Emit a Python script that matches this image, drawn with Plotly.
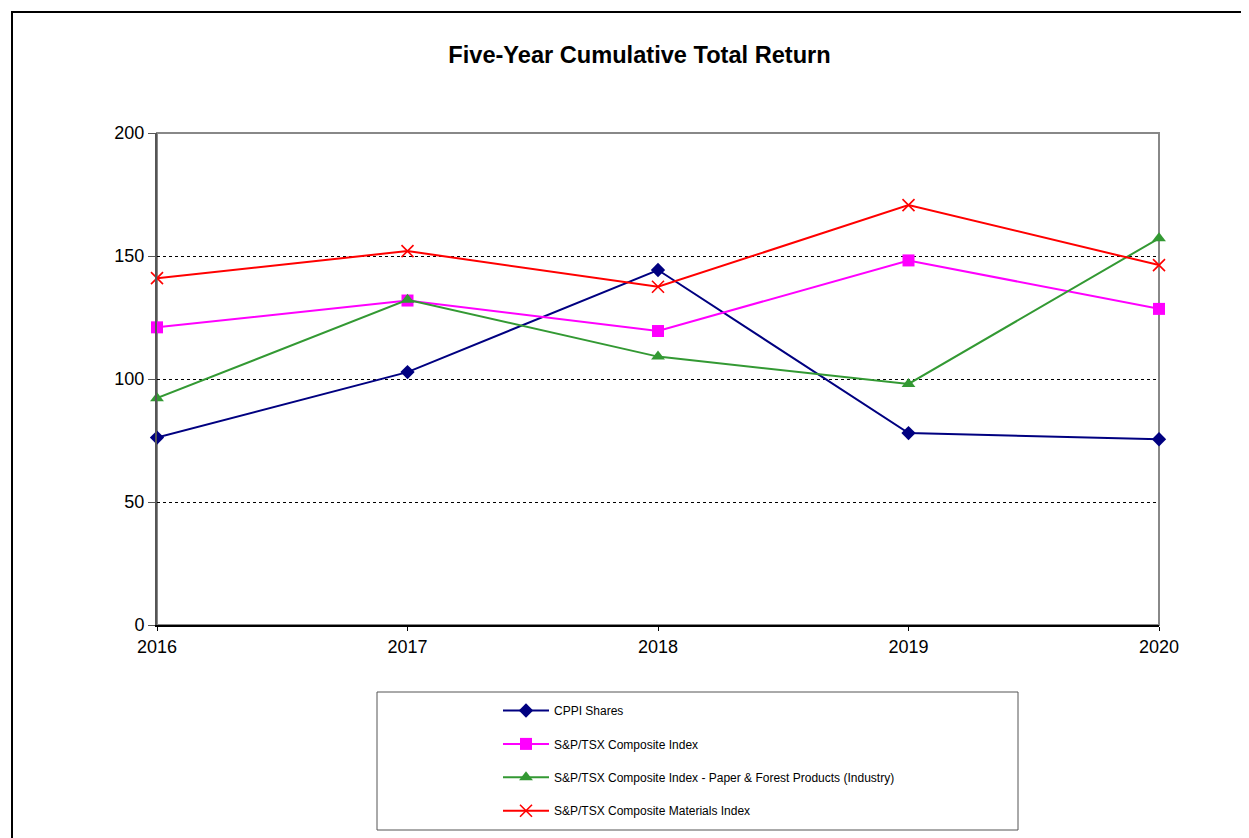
import plotly.graph_objects as go

years = [2016, 2017, 2018, 2019, 2020]
cppi = [76.2, 102.8, 144.3, 78.0, 75.5]
sptsx = [121.0, 131.9, 119.5, 148.2, 128.5]
paper_forest = [92.2, 132.2, 109.1, 98.0, 157.2]
materials = [141.0, 152.0, 137.5, 170.7, 146.3]

series = [
    ("CPPI Shares", cppi, "#000080", "diamond", 11),
    ("S&P/TSX Composite Index", sptsx, "#FF00FF", "square", 12),
    ("S&P/TSX Composite Index - Paper & Forest Products (Industry)", paper_forest, "#339933", "triangle-up", 12),
    ("S&P/TSX Composite Materials Index", materials, "#FF0000", "x-thin", 12),
]

OFF = 8  # page body margin
W, H = 1249 - OFF, 838 - OFF
# plot area in screen pixels
L, R, T, B = 157, 1159, 133, 625

def px(x):
    return (x - L) / (R - L)

def py(y):
    return (B - y) / (B - T)

def cx(x):
    return (x - OFF) / W

def cy(y):
    return 1 - (y - OFF) / H

fig = go.Figure()
for i, (name, vals, col, sym, sz) in enumerate(series):
    marker = dict(symbol=sym, size=sz, color=col)
    if sym == "x-thin":
        marker["line"] = dict(color=col, width=1.6)
    fig.add_trace(go.Scatter(
        x=years, y=vals, name=name, mode="lines+markers",
        line=dict(color=col, width=2), marker=marker,
        cliponaxis=False, legendgroup=f"g{i}",
    ))

shapes = [
    dict(type="rect", xref="paper", yref="paper", x0=0, x1=1, y0=0, y1=1,
         line=dict(color="#888888", width=2), layer="below"),
    dict(type="path", xref="paper", yref="paper",
         path=f"M {px(12)} {py(850)} L {px(12)} {py(12)} L {px(1260)} {py(12)}",
         line=dict(color="black", width=2)),
    dict(type="rect", xref="paper", yref="paper",
         x0=px(377), x1=px(1018), y0=py(830), y1=py(692),
         line=dict(color="#555555", width=1)),
]

fig.update_layout(
    width=W, height=H,
    margin=dict(l=L - OFF, r=W - (R - OFF), t=T - OFF, b=H - (B - OFF), pad=0,
                autoexpand=False),
    paper_bgcolor="white", plot_bgcolor="white",
    font=dict(family="Liberation Sans, Arial, sans-serif", color="black"),
    title=dict(text="<b>Five-Year Cumulative Total Return</b>",
               x=cx(639.5), xanchor="center", xref="container",
               y=cy(55), yanchor="middle", yref="container",
               font=dict(size=23.6, color="black")),
    xaxis=dict(range=[2016, 2020], tickvals=years, ticktext=[str(y) for y in years],
               showgrid=False, zeroline=False, showline=True, linecolor="black", linewidth=2,
               ticks="outside", ticklen=4, tickcolor="black", tickwidth=1,
               tickfont=dict(size=18), fixedrange=True),
    yaxis=dict(range=[0, 200], tickvals=[0, 50, 100, 150, 200],
               showgrid=True, gridcolor="black", griddash="dot", gridwidth=1,
               zeroline=False, showline=True, linecolor="#555555", linewidth=2,
               ticks="outside", ticklen=7, tickcolor="#555555", tickwidth=1,
               tickfont=dict(size=18), fixedrange=True),
    showlegend=True,
    legend=dict(x=cx(498), xanchor="left", xref="container",
                y=cy(696), yanchor="top", yref="container",
                bgcolor="rgba(0,0,0,0)", borderwidth=0,
                font=dict(size=12), tracegroupgap=14.4, traceorder="grouped",
                itemwidth=46),
    shapes=shapes,
)

fig.write_html("out.html")
